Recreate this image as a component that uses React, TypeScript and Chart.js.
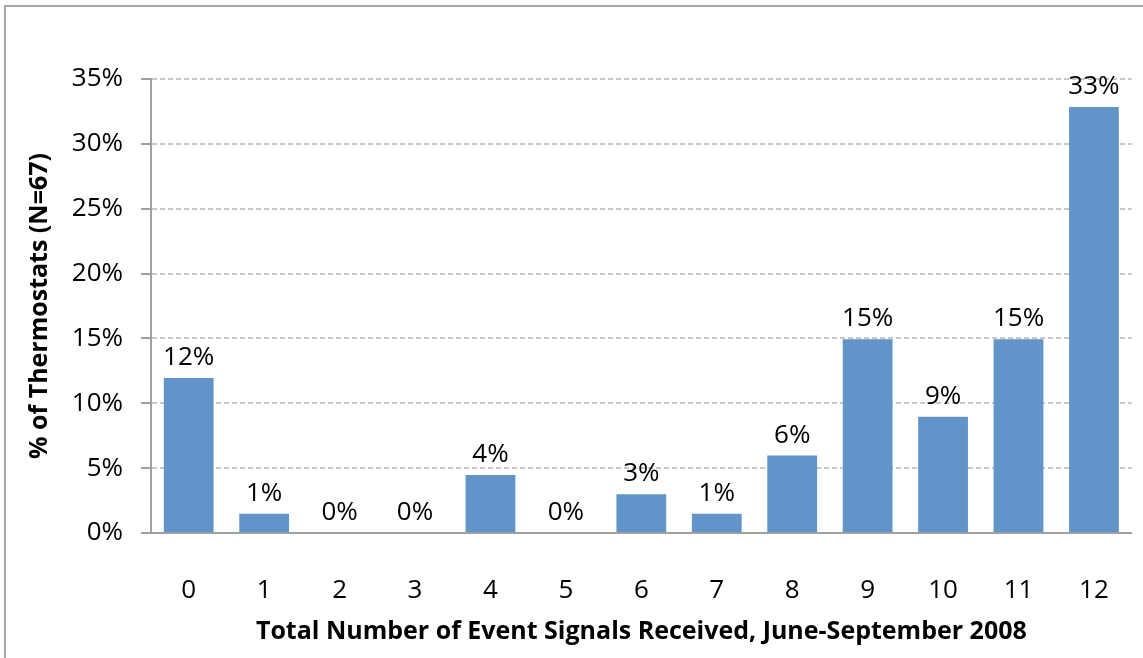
import React, { useEffect, useRef } from "react";
import { Chart, registerables } from "chart.js";

Chart.register(...registerables);

const categories = ["0", "1", "2", "3", "4", "5", "6", "7", "8", "9", "10", "11", "12"];
const percentValues = [11.94, 1.49, 0, 0, 4.48, 0, 2.99, 1.49, 5.97, 14.93, 8.96, 14.93, 32.84];
const yTickMax = 35;
const yTickStep = 5;
const xTitle = "Total Number of Event Signals Received, June-September 2008";
const yTitle = "% of Thermostats (N=67)";

const FONT = "'Open Sans', Lato, sans-serif";

const barLabelPlugin = {
  id: "barLabels",
  afterDatasetsDraw(chart: any) {
    const ctx = chart.ctx;
    const meta = chart.getDatasetMeta(0);
    const data = chart.data.datasets[0].data as number[];
    ctx.save();
    ctx.font = `26px ${FONT}`;
    ctx.fillStyle = "#000";
    ctx.textAlign = "center";
    ctx.textBaseline = "alphabetic";
    meta.data.forEach((bar: any, i: number) => {
      const label = Math.round(data[i]) + "%";
      ctx.fillText(label, bar.x, bar.y - 13);
    });
    ctx.restore();
  },
};

export default function App() {
  const canvasRef = useRef<HTMLCanvasElement | null>(null);

  useEffect(() => {
    if (!canvasRef.current) return;
    const chart = new Chart(canvasRef.current, {
      type: "bar",
      data: {
        labels: categories,
        datasets: [
          {
            data: percentValues,
            backgroundColor: "#6195C9",
            borderWidth: 0,
            categoryPercentage: 1,
            barPercentage: 0.66,
          },
        ],
      },
      options: {
        responsive: false,
        animation: false,
        layout: { padding: { top: 79, right: 5, left: 0, bottom: 0 } },
        plugins: {
          legend: { display: false },
          tooltip: { enabled: false },
        },
        scales: {
          x: {
            grid: { display: false },
            border: { display: true, color: "#a0a0a0", width: 2 },
            ticks: {
              color: "#000",
              font: { family: FONT, size: 26 },
              padding: 34,
            },
            title: {
              display: true,
              text: xTitle,
              color: "#000",
              font: { family: FONT, size: 25, weight: "bold" },
              padding: { top: 0, bottom: 11 },
            },
            afterFit(scale: any) {
              scale.height = 125;
            },
          },
          y: {
            min: 0,
            max: yTickMax,
            grid: {
              color: "#c8c8c8",
              lineWidth: 2,
              drawTicks: true,
              tickLength: 10,
              tickColor: "#a0a0a0",
              tickWidth: 2,
            },
            border: { display: true, color: "#a0a0a0", width: 2, dash: [5, 3] },
            ticks: {
              stepSize: yTickStep,
              color: "#000",
              font: { family: FONT, size: 26 },
              padding: 18,
              callback: (v: any) => v + "%",
            },
            title: {
              display: true,
              text: yTitle,
              color: "#000",
              font: { family: FONT, size: 25, weight: "bold" },
              padding: { top: 25, bottom: 0 },
            },
            afterFit(scale: any) {
              scale.width = 151;
            },
          },
        },
      },
      plugins: [barLabelPlugin],
    });
    return () => chart.destroy();
  }, []);

  return (
    <div
      style={{
        position: "fixed",
        left: 0,
        top: 0,
        width: 1143,
        height: 658,
        overflow: "hidden",
        background: "#fff",
      }}
    >
      <div
        style={{
          position: "absolute",
          left: 4,
          top: 5,
          width: 1200,
          height: 700,
          border: "2px solid #a6a6a6",
          boxSizing: "border-box",
        }}
      />
      <canvas
        ref={canvasRef}
        width={1143}
        height={658}
        style={{ position: "absolute", left: 0, top: 0, display: "block" }}
      />
    </div>
  );
}
